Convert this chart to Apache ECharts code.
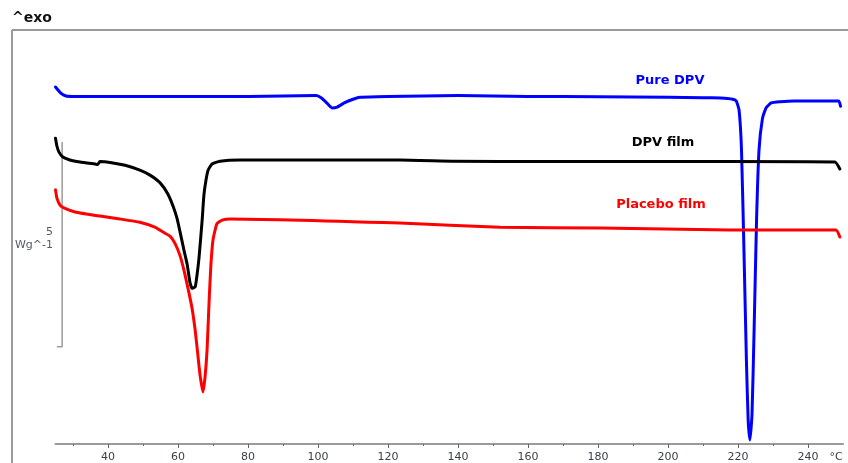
<!DOCTYPE html>
<html>
<head>
<meta charset="utf-8">
<script src="https://cdn.jsdelivr.net/npm/echarts@6/dist/echarts.min.js"></script>
<style>
  html, body { margin: 0; padding: 0; background: #fff; }
  #chart { width: 848px; height: 463px; }
</style>
</head>
<body>
<div id="chart"></div>
<script>
// temperature (°C) / heat flow (W/g, offset) pairs
const pureDPV = [
  [25, 8.71], [26.5, 8.56], [28, 8.49], [30, 8.48], [40, 8.48], [60, 8.48], [80, 8.48],
  [90, 8.49], [99.5, 8.50], [101, 8.44], [102.5, 8.32], [104, 8.20], [105.5, 8.22],
  [107.5, 8.32], [110, 8.41], [112, 8.46], [120, 8.48], [140, 8.50], [160, 8.48],
  [180, 8.47], [200, 8.46], [210, 8.45], [215, 8.44], [217, 8.43], [218.5, 8.41],
  [219.5, 8.37], [220.3, 8.15], [221, 7.17], [221.7, 4.73], [222.4, 2.05], [222.9, 0.59],
  [223.4, 0.10], [224, 0.71], [224.6, 2.78], [225.3, 5.46], [226, 7.17], [227, 7.95],
  [228, 8.20], [229.5, 8.32], [232, 8.35], [236, 8.37], [240, 8.37], [245, 8.37],
  [248.8, 8.37], [249.3, 8.24]
];
const dpvFilm = [
  [25, 7.46], [25.4, 7.27], [26, 7.12], [27.1, 7.00], [29.1, 6.93], [32, 6.88],
  [36.3, 6.83], [37.1, 6.82], [37.7, 6.89], [40.6, 6.87], [44.9, 6.80], [49.1, 6.68],
  [52, 6.56], [54.9, 6.37], [57.1, 6.10], [58.6, 5.80], [59.7, 5.51], [60.6, 5.17],
  [61.7, 4.73], [62.6, 4.39], [63.4, 3.95], [64, 3.80], [64.9, 3.83], [65.4, 4.10],
  [66, 4.54], [66.9, 5.46], [67.4, 6.07], [68, 6.44], [68.6, 6.68], [69.7, 6.83],
  [72, 6.90], [77.7, 6.93], [123.4, 6.93], [139, 6.90], [164.9, 6.89], [217.7, 6.89],
  [247.7, 6.88], [249.1, 6.71]
];
const placeboFilm = [
  [25, 6.20], [25.4, 6.00], [26.3, 5.83], [27.4, 5.76], [30.6, 5.66], [37.7, 5.56],
  [43.4, 5.49], [49.1, 5.41], [53.4, 5.29], [55.7, 5.17], [57.7, 5.07], [59.1, 4.90],
  [60.6, 4.59], [61.7, 4.24], [62.9, 3.78], [64, 3.32], [64.9, 2.78], [65.7, 2.15],
  [66.3, 1.68], [67.1, 1.27], [67.7, 1.61], [68.3, 2.29], [68.9, 3.51], [69.4, 4.37],
  [70, 4.98], [71.1, 5.37], [72.6, 5.46], [74.9, 5.49], [123.4, 5.39], [152, 5.29],
  [180.6, 5.27], [217.7, 5.22], [248, 5.22], [249.1, 5.05]
];
// 5 W/g scale bar
const scaleBar = [[25.4, 2.37], [26.9, 2.37], [26.9, 7.37]];
const majorTicks = [40, 60, 80, 100, 120, 140, 160, 180, 200, 220, 240];
const minorTicks = [30, 50, 70, 90, 110, 130, 150, 170, 190, 210, 230];

const chart = echarts.init(document.getElementById('chart'), null, { renderer: 'canvas' });
const font = 'DejaVu Sans';

const curve = (name, data, color) => ({
  name, type: 'line', data, showSymbol: false, symbol: 'none',
  smooth: 0.15,
  lineStyle: { color, width: 3, join: 'round', cap: 'round' }, z: 3
});

chart.setOption({
  animation: false,
  backgroundColor: '#fff',
  grid: { left: 55.5, right: 5, top: 30, bottom: 19, containLabel: false },
  xAxis: [
    {
      type: 'value', min: 25, max: 250, position: 'bottom',
      axisLine: { lineStyle: { color: '#9a9a9a', width: 2 } },
      axisTick: { show: true, customValues: majorTicks, length: 4, lineStyle: { color: '#666' } },
      axisLabel: { customValues: majorTicks, color: '#3a3f48', fontFamily: font, fontSize: 11, margin: 8 },
      splitLine: { show: false }
    },
    {
      type: 'value', min: 25, max: 250, position: 'bottom',
      axisLine: { show: false },
      axisTick: { show: true, customValues: minorTicks, length: 2, lineStyle: { color: '#666' } },
      axisLabel: { show: false },
      splitLine: { show: false }
    }
  ],
  yAxis: { type: 'value', min: 0, max: 10.1, show: false },
  series: [
    {
      name: 'scale', type: 'line', data: scaleBar, symbol: 'none',
      lineStyle: { color: '#9a9a9a', width: 1.5 }, z: 1
    },
    curve('Pure DPV', pureDPV, '#0000ff'),
    curve('DPV film', dpvFilm, '#000000'),
    curve('Placebo film', placeboFilm, '#ff0000')
  ],
  graphic: [
    { type: 'line', shape: { x1: 12, y1: 30, x2: 848, y2: 30 }, style: { stroke: '#9a9a9a', lineWidth: 2 } },
    { type: 'line', shape: { x1: 12, y1: 30, x2: 12, y2: 463 }, style: { stroke: '#9a9a9a', lineWidth: 2 } },
    { type: 'text', x: 12, y: 18, style: { text: '^exo', font: 'bold 14px "DejaVu Sans"', fill: '#111', verticalAlign: 'middle' } },
    { type: 'text', x: 53, y: 232, style: { text: '5', font: '11px "DejaVu Sans"', fill: '#555a66', align: 'right', verticalAlign: 'middle' } },
    { type: 'text', x: 53, y: 245, style: { text: 'Wg^-1', font: '11px "DejaVu Sans"', fill: '#555a66', align: 'right', verticalAlign: 'middle' } },
    { type: 'text', x: 836, y: 457, style: { text: '°C', font: '11px "DejaVu Sans"', fill: '#3a3f48', align: 'center', verticalAlign: 'middle' } },
    { type: 'text', x: 670, y: 81, style: { text: 'Pure DPV', font: 'bold 13px "DejaVu Sans"', fill: '#0000ff', align: 'center', verticalAlign: 'middle' } },
    { type: 'text', x: 663, y: 143, style: { text: 'DPV film', font: 'bold 13px "DejaVu Sans"', fill: '#000', align: 'center', verticalAlign: 'middle' } },
    { type: 'text', x: 661, y: 205, style: { text: 'Placebo film', font: 'bold 13px "DejaVu Sans"', fill: '#ff0000', align: 'center', verticalAlign: 'middle' } }
  ]
});
</script>
</body>
</html>
